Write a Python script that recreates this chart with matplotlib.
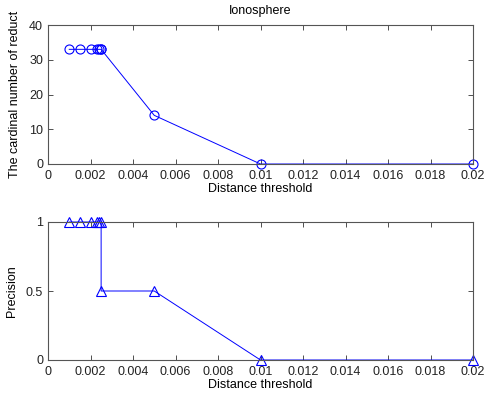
import matplotlib
matplotlib.use("Agg")
import matplotlib.pyplot as plt
from matplotlib.ticker import FuncFormatter

threshold = [0.001, 0.0015, 0.002, 0.0023, 0.0024, 0.0025, 0.0025, 0.005, 0.01, 0.02]
reduct = [33, 33, 33, 33, 33, 33, 33, 14, 0, 0]
precision = [1, 1, 1, 1, 1, 1, 0.5, 0.5, 0, 0]
xticks = [0, 0.002, 0.004, 0.006, 0.008, 0.01, 0.012, 0.014, 0.016, 0.018, 0.02]

plt.rcParams['font.family'] = ['Liberation Sans', 'DejaVu Sans']
W, H = 486, 399
fig = plt.figure(figsize=(W / 100, H / 100), dpi=100)

def axpos(l, t, r, b):
    return [l / W, 1 - b / H, (r - l) / W, (b - t) / H]

fmt = FuncFormatter(lambda v, p: '%g' % v)

def style(ax):
    ax.set_xlim(0, 0.02)
    ax.set_xticks(xticks)
    ax.xaxis.set_major_formatter(fmt)
    ax.yaxis.set_major_formatter(fmt)
    ax.tick_params(direction='in', top=True, right=True, labelsize=9, length=3.5, width=0.6,
                   colors='#333333', labelcolor='#222222')
    ax.tick_params(axis='x', pad=4)
    for s in ax.spines.values():
        s.set_linewidth(0.8)
        s.set_color('#555555')
    ax.set_xlabel('Distance threshold', fontsize=9, labelpad=1)

ax1 = fig.add_axes(axpos(48, 25, 473, 164))
ax1.plot(threshold, reduct, color='#0000ff', lw=0.7, marker='o', ms=6.5, mfc='none', mec='#0000ff', mew=0.8, clip_on=False)
ax1.set_ylim(0, 40)
ax1.set_yticks([0, 10, 20, 30, 40])
style(ax1)
ax1.set_ylabel('The cardinal number of reduct', fontsize=9, labelpad=6)
ax1.set_title('Ionosphere', fontsize=9, pad=8)

ax2 = fig.add_axes(axpos(48, 222, 473, 360))
ax2.plot(threshold, precision, color='#0000ff', lw=0.7, marker='^', ms=7, mfc='none', mec='#0000ff', mew=0.8, clip_on=False)
ax2.set_ylim(0, 1)
ax2.set_yticks([0, 0.5, 1])
style(ax2)
ax2.set_ylabel('Precision', fontsize=9, labelpad=6)

fig.savefig('out.png', dpi=100)
